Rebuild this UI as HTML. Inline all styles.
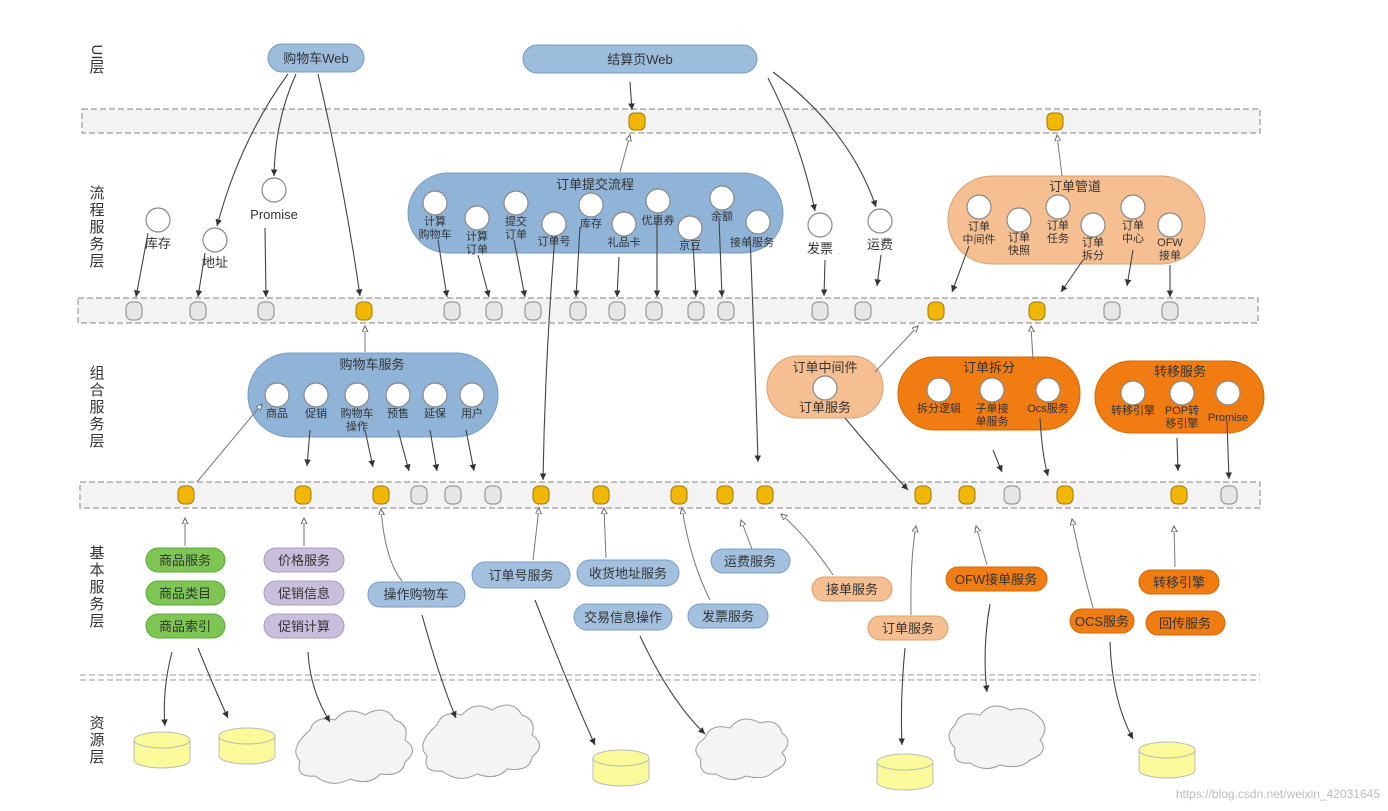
<!DOCTYPE html>
<html><head><meta charset="utf-8"><style>
body{margin:0;background:#fff}
svg{display:block}
text{font-family:"Liberation Sans","Noto Sans CJK SC",sans-serif;fill:#333;text-anchor:middle}
.s{font-size:11px}.m{font-size:13px}.l{font-size:15px;fill:#555}
.band{fill:#f3f3f3;stroke:#999;stroke-dasharray:6 3;stroke-width:1.2}
.g{fill:#e6e6e6;stroke:#888;stroke-width:1}
.y{fill:#f2b705;stroke:#a07a00;stroke-width:1}
.c{fill:#fff;stroke:#888;stroke-width:1.2}
.a{stroke:#444;stroke-width:1.1;fill:none;marker-end:url(#ah)}
.o{stroke:#777;stroke-width:1;fill:none;marker-end:url(#oh)}
.cy{fill:#fafa9a;stroke:#bbb}
.cl{fill:#f4f4f4;stroke:#999}
</style></head><body>
<svg width="1388" height="811" viewBox="0 0 1388 811">
<defs>
<marker id="ah" markerWidth="8" markerHeight="8" refX="6" refY="3" orient="auto"><path d="M0,0 L6,3 L0,6z" fill="#333"/></marker>
<marker id="oh" markerWidth="8" markerHeight="8" refX="6" refY="3" orient="auto"><path d="M0,0 L6,3 L0,6z" fill="#fff" stroke="#666"/></marker>
</defs>
<g class="l">
<text x="0" y="0" transform="translate(92,52) rotate(90)">UI</text><text x="97" y="72">层</text>
<text x="97" y="198">流</text><text x="97" y="215">程</text><text x="97" y="232">服</text><text x="97" y="249">务</text><text x="97" y="266">层</text>
<text x="97" y="378">组</text><text x="97" y="395">合</text><text x="97" y="412">服</text><text x="97" y="429">务</text><text x="97" y="446">层</text>
<text x="97" y="558">基</text><text x="97" y="575">本</text><text x="97" y="592">服</text><text x="97" y="609">务</text><text x="97" y="626">层</text>
<text x="97" y="728">资</text><text x="97" y="745">源</text><text x="97" y="762">层</text>
</g>
<rect class="band" x="82" y="109" width="1178" height="24"/>
<rect class="band" x="78" y="298" width="1180" height="25"/>
<rect class="band" x="80" y="482" width="1180" height="26"/>
<line x1="80" y1="675" x2="1260" y2="675" stroke="#999" stroke-dasharray="6 3"/>
<line x1="80" y1="680" x2="1260" y2="680" stroke="#999" stroke-dasharray="6 3"/>

<rect x="268" y="44" width="96" height="28" rx="14" fill="#9dbddc" stroke="#7a9cc0"/>
<text class="m" x="316" y="63">购物车Web</text>
<rect x="523" y="45" width="234" height="28" rx="14" fill="#9dbddc" stroke="#7a9cc0"/>
<text class="m" x="640" y="64">结算页Web</text>

<rect class="y" x="629" y="113" width="16" height="17" rx="5"/>
<rect class="y" x="1047" y="113" width="16" height="17" rx="5"/>

<circle class="c" cx="158" cy="220" r="12"/><text class="m" x="158" y="248">库存</text>
<circle class="c" cx="215" cy="240" r="12"/><text class="m" x="215" y="267">地址</text>
<circle class="c" cx="274" cy="190" r="12"/><text class="m" x="274" y="219">Promise</text>
<circle class="c" cx="820" cy="225" r="12"/><text class="m" x="820" y="253">发票</text>
<circle class="c" cx="880" cy="221" r="12"/><text class="m" x="880" y="249">运费</text>

<rect x="408" y="173" width="375" height="80" rx="40" fill="#8fb4d8" stroke="#7a9cc0"/>
<text class="m" x="595" y="189">订单提交流程</text>
<g class="s">
<circle class="c" cx="435" cy="203" r="12"/><text x="435" y="225">计算</text><text x="435" y="238">购物车</text>
<circle class="c" cx="477" cy="218" r="12"/><text x="477" y="240">计算</text><text x="477" y="253">订单</text>
<circle class="c" cx="516" cy="203" r="12"/><text x="516" y="225">提交</text><text x="516" y="238">订单</text>
<circle class="c" cx="554" cy="224" r="12"/><text x="554" y="245">订单号</text>
<circle class="c" cx="591" cy="205" r="12"/><text x="591" y="227">库存</text>
<circle class="c" cx="624" cy="224" r="12"/><text x="624" y="246">礼品卡</text>
<circle class="c" cx="658" cy="201" r="12"/><text x="658" y="224">优惠券</text>
<circle class="c" cx="690" cy="228" r="12"/><text x="690" y="249">京豆</text>
<circle class="c" cx="722" cy="198" r="12"/><text x="722" y="220">余额</text>
<circle class="c" cx="758" cy="222" r="12"/><text x="752" y="246">接单服务</text>
</g>

<rect x="948" y="176" width="257" height="88" rx="44" fill="#f6bf92" stroke="#d9a070"/>
<text class="m" x="1075" y="191">订单管道</text>
<g class="s">
<circle class="c" cx="979" cy="207" r="12"/><text x="979" y="230">订单</text><text x="979" y="243">中间件</text>
<circle class="c" cx="1019" cy="220" r="12"/><text x="1019" y="241">订单</text><text x="1019" y="254">快照</text>
<circle class="c" cx="1058" cy="207" r="12"/><text x="1058" y="229">订单</text><text x="1058" y="242">任务</text>
<circle class="c" cx="1093" cy="225" r="12"/><text x="1093" y="246">订单</text><text x="1093" y="259">拆分</text>
<circle class="c" cx="1133" cy="207" r="12"/><text x="1133" y="229">订单</text><text x="1133" y="242">中心</text>
<circle class="c" cx="1170" cy="225" r="12"/><text x="1170" y="246">OFW</text><text x="1170" y="259">接单</text>
</g>

<g>
<rect class="g" x="126" y="302" width="16" height="18" rx="6"/>
<rect class="g" x="190" y="302" width="16" height="18" rx="6"/>
<rect class="g" x="258" y="302" width="16" height="18" rx="6"/>
<rect class="y" x="356" y="302" width="16" height="18" rx="6"/>
<rect class="g" x="444" y="302" width="16" height="18" rx="6"/>
<rect class="g" x="486" y="302" width="16" height="18" rx="6"/>
<rect class="g" x="525" y="302" width="16" height="18" rx="6"/>
<rect class="g" x="570" y="302" width="16" height="18" rx="6"/>
<rect class="g" x="609" y="302" width="16" height="18" rx="6"/>
<rect class="g" x="646" y="302" width="16" height="18" rx="6"/>
<rect class="g" x="688" y="302" width="16" height="18" rx="6"/>
<rect class="g" x="718" y="302" width="16" height="18" rx="6"/>
<rect class="g" x="812" y="302" width="16" height="18" rx="6"/>
<rect class="g" x="855" y="302" width="16" height="18" rx="6"/>
<rect class="y" x="928" y="302" width="16" height="18" rx="6"/>
<rect class="y" x="1029" y="302" width="16" height="18" rx="6"/>
<rect class="g" x="1104" y="302" width="16" height="18" rx="6"/>
<rect class="g" x="1162" y="302" width="16" height="18" rx="6"/>
</g>

<rect x="248" y="353" width="250" height="84" rx="42" fill="#8fb4d8" stroke="#7a9cc0"/>
<text class="m" x="372" y="369">购物车服务</text>
<g class="s">
<circle class="c" cx="277" cy="395" r="12"/><text x="277" y="417">商品</text>
<circle class="c" cx="316" cy="395" r="12"/><text x="316" y="417">促销</text>
<circle class="c" cx="357" cy="395" r="12"/><text x="357" y="417">购物车</text><text x="357" y="430">操作</text>
<circle class="c" cx="398" cy="395" r="12"/><text x="398" y="417">预售</text>
<circle class="c" cx="435" cy="395" r="12"/><text x="435" y="417">延保</text>
<circle class="c" cx="472" cy="395" r="12"/><text x="472" y="417">用户</text>
</g>
<rect x="767" y="356" width="116" height="62" rx="31" fill="#f6bf92" stroke="#d9a070"/>
<text class="m" x="825" y="372">订单中间件</text>
<circle class="c" cx="825" cy="388" r="12"/><text class="m" x="825" y="412">订单服务</text>
<rect x="898" y="357" width="182" height="73" rx="36" fill="#f07c12" stroke="#d06a0a"/>
<text class="m" x="989" y="372">订单拆分</text>
<g class="s">
<circle class="c" cx="939" cy="390" r="12"/><text x="939" y="412">拆分逻辑</text>
<circle class="c" cx="992" cy="390" r="12"/><text x="992" y="412">子单接</text><text x="992" y="425">单服务</text>
<circle class="c" cx="1048" cy="390" r="12"/><text x="1048" y="412">Ocs服务</text>
</g>
<rect x="1095" y="361" width="169" height="72" rx="36" fill="#f07c12" stroke="#d06a0a"/>
<text class="m" x="1180" y="376">转移服务</text>
<g class="s">
<circle class="c" cx="1133" cy="393" r="12"/><text x="1133" y="414">转移引擎</text>
<circle class="c" cx="1182" cy="393" r="12"/><text x="1182" y="414">POP转</text><text x="1182" y="427">移引擎</text>
<circle class="c" cx="1228" cy="393" r="12"/><text x="1228" y="421">Promise</text>
</g>

<g>
<rect class="y" x="178" y="486" width="16" height="18" rx="6"/>
<rect class="y" x="295" y="486" width="16" height="18" rx="6"/>
<rect class="y" x="373" y="486" width="16" height="18" rx="6"/>
<rect class="g" x="411" y="486" width="16" height="18" rx="6"/>
<rect class="g" x="445" y="486" width="16" height="18" rx="6"/>
<rect class="g" x="485" y="486" width="16" height="18" rx="6"/>
<rect class="y" x="533" y="486" width="16" height="18" rx="6"/>
<rect class="y" x="593" y="486" width="16" height="18" rx="6"/>
<rect class="y" x="671" y="486" width="16" height="18" rx="6"/>
<rect class="y" x="717" y="486" width="16" height="18" rx="6"/>
<rect class="y" x="757" y="486" width="16" height="18" rx="6"/>
<rect class="y" x="915" y="486" width="16" height="18" rx="6"/>
<rect class="y" x="959" y="486" width="16" height="18" rx="6"/>
<rect class="g" x="1004" y="486" width="16" height="18" rx="6"/>
<rect class="y" x="1057" y="486" width="16" height="18" rx="6"/>
<rect class="y" x="1171" y="486" width="16" height="18" rx="6"/>
<rect class="g" x="1221" y="486" width="16" height="18" rx="6"/>
</g>

<g class="m">
<rect x="146" y="548" width="79" height="24" rx="12" fill="#7dc653" stroke="#5ea83a"/><text x="185" y="565">商品服务</text>
<rect x="146" y="581" width="79" height="24" rx="12" fill="#7dc653" stroke="#5ea83a"/><text x="185" y="598">商品类目</text>
<rect x="146" y="614" width="79" height="24" rx="12" fill="#7dc653" stroke="#5ea83a"/><text x="185" y="631">商品索引</text>
<rect x="264" y="548" width="80" height="24" rx="12" fill="#c9bfdc" stroke="#a89cc0"/><text x="304" y="565">价格服务</text>
<rect x="264" y="581" width="80" height="24" rx="12" fill="#c9bfdc" stroke="#a89cc0"/><text x="304" y="598">促销信息</text>
<rect x="264" y="614" width="80" height="24" rx="12" fill="#c9bfdc" stroke="#a89cc0"/><text x="304" y="631">促销计算</text>
<rect x="368" y="582" width="97" height="25" rx="12" fill="#a3c1df" stroke="#7a9cc0"/><text x="416" y="599">操作购物车</text>
<rect x="472" y="562" width="98" height="26" rx="13" fill="#a3c1df" stroke="#7a9cc0"/><text x="521" y="580">订单号服务</text>
<rect x="577" y="560" width="102" height="26" rx="13" fill="#a3c1df" stroke="#7a9cc0"/><text x="628" y="578">收货地址服务</text>
<rect x="574" y="604" width="98" height="26" rx="13" fill="#a3c1df" stroke="#7a9cc0"/><text x="623" y="622">交易信息操作</text>
<rect x="711" y="549" width="79" height="24" rx="12" fill="#a3c1df" stroke="#7a9cc0"/><text x="750" y="566">运费服务</text>
<rect x="688" y="604" width="80" height="24" rx="12" fill="#a3c1df" stroke="#7a9cc0"/><text x="728" y="621">发票服务</text>
<rect x="812" y="577" width="80" height="24" rx="12" fill="#f6bf92" stroke="#d9a070"/><text x="852" y="594">接单服务</text>
<rect x="868" y="616" width="80" height="24" rx="12" fill="#f6bf92" stroke="#d9a070"/><text x="908" y="633">订单服务</text>
<rect x="946" y="567" width="101" height="24" rx="12" fill="#f07c12" stroke="#d06a0a"/><text x="996" y="584">OFW接单服务</text>
<rect x="1070" y="609" width="64" height="24" rx="12" fill="#f07c12" stroke="#d06a0a"/><text x="1102" y="626">OCS服务</text>
<rect x="1139" y="570" width="80" height="24" rx="12" fill="#f07c12" stroke="#d06a0a"/><text x="1179" y="587">转移引擎</text>
<rect x="1146" y="611" width="79" height="24" rx="12" fill="#f07c12" stroke="#d06a0a"/><text x="1185" y="628">回传服务</text>
</g>

<g>
<path class="cy" d="M134,740 v20 a28,8 0 0 0 56,0 v-20"/><ellipse class="cy" cx="162" cy="740" rx="28" ry="8"/>
<path class="cy" d="M219,736 v20 a28,8 0 0 0 56,0 v-20"/><ellipse class="cy" cx="247" cy="736" rx="28" ry="8"/>
<path class="cy" d="M593,758 v20 a28,8 0 0 0 56,0 v-20"/><ellipse class="cy" cx="621" cy="758" rx="28" ry="8"/>
<path class="cy" d="M877,762 v20 a28,8 0 0 0 56,0 v-20"/><ellipse class="cy" cx="905" cy="762" rx="28" ry="8"/>
<path class="cy" d="M1139,750 v20 a28,8 0 0 0 56,0 v-20"/><ellipse class="cy" cx="1167" cy="750" rx="28" ry="8"/>
</g>
<g class="cl">
<path d="M310,730 q5,-15 25,-10 q12,-15 30,-5 q20,-12 30,5 q15,5 10,20 q15,10 0,22 q-2,15 -25,12 q-10,12 -30,5 q-18,10 -35,-3 q-20,2 -15,-15 q-12,-12 10,-31z"/>
<path d="M437,725 q5,-15 25,-10 q12,-15 30,-5 q20,-12 30,5 q15,5 10,20 q15,10 0,22 q-2,15 -25,12 q-10,12 -30,5 q-18,10 -35,-3 q-20,2 -15,-15 q-12,-12 10,-31z"/>
<path d="M705,738 q5,-15 25,-10 q12,-15 30,-5 q18,-5 22,10 q12,8 0,20 q10,10 -8,18 q-8,10 -28,5 q-15,8 -30,-2 q-18,2 -15,-15 q-12,-10 4,-21z"/>
<path d="M955,725 q5,-15 25,-10 q12,-15 30,-5 q18,-5 30,8 q10,10 0,22 q10,12 -10,20 q-10,10 -30,5 q-15,8 -30,-2 q-18,2 -15,-15 q-12,-12 0,-23z"/>
</g>

<path class="a" d="M288,74 Q240,140 217,226"/>
<path class="a" d="M296,74 Q275,120 274,176"/>
<path class="a" d="M318,74 Q345,190 360,296"/>
<path class="a" d="M630,82 L632,110"/>
<path class="o" d="M620,172 L630,135"/>
<path class="a" d="M768,78 Q800,140 815,211"/>
<path class="a" d="M773,72 Q850,130 876,207"/>
<path class="o" d="M1062,176 L1057,135"/>
<path class="a" d="M148,233 L136,297"/>
<path class="a" d="M205,253 L198,297"/>
<path class="a" d="M265,228 L266,297"/>
<path class="a" d="M438,240 L447,297"/>
<path class="a" d="M478,255 L489,297"/>
<path class="a" d="M514,240 L525,297"/>
<path class="a" d="M580,227 L576,297"/>
<path class="a" d="M619,257 L617,297"/>
<path class="a" d="M657,222 L657,297"/>
<path class="a" d="M693,243 L696,297"/>
<path class="a" d="M719,218 L722,297"/>
<path class="a" d="M825,260 L824,296"/>
<path class="a" d="M881,255 L877,286"/>
<path class="a" d="M969,246 L952,292"/>
<path class="a" d="M1083,260 L1061,292"/>
<path class="a" d="M1133,250 L1127,286"/>
<path class="a" d="M1170,265 L1170,297"/>
<path class="a" d="M555,236 Q545,360 543,480"/>
<path class="a" d="M750,236 Q755,360 758,462"/>
<path class="o" d="M365,352 L365,326"/>
<path class="o" d="M875,372 L918,326"/>
<path class="o" d="M1033,360 L1031,326"/>
<path class="o" d="M197,482 L262,404"/>
<path class="a" d="M310,430 L307,466"/>
<path class="a" d="M365,430 L373,467"/>
<path class="a" d="M398,430 L409,471"/>
<path class="a" d="M430,430 L437,471"/>
<path class="a" d="M466,430 L474,471"/>
<path class="a" d="M845,418 Q880,460 908,490"/>
<path class="a" d="M993,450 L1002,472"/>
<path class="a" d="M1040,418 Q1042,455 1048,476"/>
<path class="a" d="M1177,438 L1178,471"/>
<path class="a" d="M1227,421 L1229,479"/>
<path class="o" d="M185,546 L185,518"/>
<path class="o" d="M304,546 L304,518"/>
<path class="o" d="M402,581 Q385,560 381,509"/>
<path class="o" d="M533,560 L539,508"/>
<path class="o" d="M606,558 L604,508"/>
<path class="o" d="M710,600 Q690,560 682,508"/>
<path class="o" d="M752,549 L741,520"/>
<path class="o" d="M833,575 Q810,540 781,514"/>
<path class="o" d="M911,615 Q910,560 916,526"/>
<path class="o" d="M987,565 L976,526"/>
<path class="o" d="M1093,608 Q1080,560 1072,519"/>
<path class="o" d="M1175,567 L1174,526"/>
<path class="a" d="M172,652 Q162,690 165,726"/>
<path class="a" d="M198,648 Q215,690 228,718"/>
<path class="a" d="M308,652 Q310,690 330,722"/>
<path class="a" d="M422,615 Q440,680 456,718"/>
<path class="a" d="M535,600 Q570,690 595,745"/>
<path class="a" d="M640,636 Q670,700 705,734"/>
<path class="a" d="M905,648 Q900,700 902,745"/>
<path class="a" d="M990,604 Q982,650 987,692"/>
<path class="a" d="M1110,642 Q1112,700 1133,739"/>
<text x="1380" y="798" style="font-size:12px;fill:#bbb;text-anchor:end">https://blog.csdn.net/weixin_42031645</text>
</svg>
</body></html>
